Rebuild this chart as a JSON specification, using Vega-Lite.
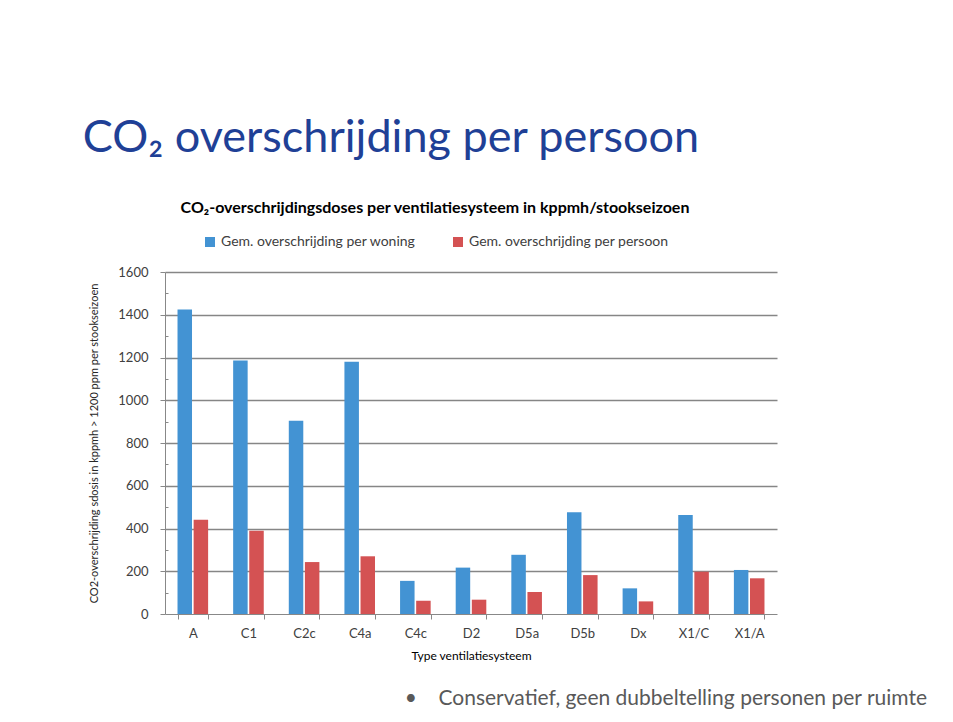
{
  "$schema": "https://vega.github.io/schema/vega-lite/v6.json",
  "autosize": {"type": "pad"},
  "padding": {"left": 82, "top": 116, "right": 10, "bottom": 4},
  "background": "white",
  "title": {
    "text": "CO₂ overschrijding per persoon",
    "anchor": "start",
    "frame": "bounds",
    "dx": -6,
    "fontSize": 45,
    "font": "Lato",
    "fontWeight": "normal",
    "color": "#1f4096",
    "offset": 39
  },
  "datasets": {
    "bars": [
      {"systeem": "A", "reeks": "Gem. overschrijding per woning", "waarde": 1424},
      {"systeem": "A", "reeks": "Gem. overschrijding per persoon", "waarde": 441},
      {"systeem": "C1", "reeks": "Gem. overschrijding per woning", "waarde": 1186},
      {"systeem": "C1", "reeks": "Gem. overschrijding per persoon", "waarde": 389},
      {"systeem": "C2c", "reeks": "Gem. overschrijding per woning", "waarde": 904},
      {"systeem": "C2c", "reeks": "Gem. overschrijding per persoon", "waarde": 243},
      {"systeem": "C4a", "reeks": "Gem. overschrijding per woning", "waarde": 1180},
      {"systeem": "C4a", "reeks": "Gem. overschrijding per persoon", "waarde": 270},
      {"systeem": "C4c", "reeks": "Gem. overschrijding per woning", "waarde": 155},
      {"systeem": "C4c", "reeks": "Gem. overschrijding per persoon", "waarde": 62},
      {"systeem": "D2", "reeks": "Gem. overschrijding per woning", "waarde": 217},
      {"systeem": "D2", "reeks": "Gem. overschrijding per persoon", "waarde": 67},
      {"systeem": "D5a", "reeks": "Gem. overschrijding per woning", "waarde": 277},
      {"systeem": "D5a", "reeks": "Gem. overschrijding per persoon", "waarde": 103},
      {"systeem": "D5b", "reeks": "Gem. overschrijding per woning", "waarde": 476},
      {"systeem": "D5b", "reeks": "Gem. overschrijding per persoon", "waarde": 182},
      {"systeem": "Dx", "reeks": "Gem. overschrijding per woning", "waarde": 120},
      {"systeem": "Dx", "reeks": "Gem. overschrijding per persoon", "waarde": 59},
      {"systeem": "X1/C", "reeks": "Gem. overschrijding per woning", "waarde": 463},
      {"systeem": "X1/C", "reeks": "Gem. overschrijding per persoon", "waarde": 198},
      {"systeem": "X1/A", "reeks": "Gem. overschrijding per woning", "waarde": 206},
      {"systeem": "X1/A", "reeks": "Gem. overschrijding per persoon", "waarde": 167}
    ],
    "noot": [{"tekst": ""}]
  },
  "vconcat": [
    {
      "width": 612,
      "height": 342,
      "data": {"name": "bars"},
      "title": {
        "text": "CO₂-overschrijdingsdoses per ventilatiesysteem in kppmh/stookseizoen",
        "anchor": "middle",
        "dx": -36,
        "fontSize": 16,
        "font": "Lato",
        "fontWeight": "bold",
        "color": "#000000",
        "offset": 50
      },
      "mark": {"type": "bar"},
      "encoding": {
        "x": {
          "field": "systeem",
          "type": "nominal",
          "sort": null,
          "scale": {"paddingInner": 0.45, "paddingOuter": 0.225},
          "axis": {
            "title": "Type ventilatiesysteem",
            "titleFont": "Lato",
            "titleFontSize": 12,
            "titleFontWeight": "normal",
            "titleColor": "#000000",
            "titlePadding": 10,
            "labelAngle": 0,
            "labelFont": "Lato",
            "labelFontSize": 13,
            "labelColor": "#404040",
            "labelPadding": 8,
            "tickBand": "extent",
            "tickSize": 5,
            "tickColor": "#888888",
            "domainColor": "#888888"
          }
        },
        "xOffset": {
          "field": "reeks",
          "type": "nominal",
          "sort": ["Gem. overschrijding per woning", "Gem. overschrijding per persoon"],
          "scale": {"paddingInner": 0.1}
        },
        "y": {
          "field": "waarde",
          "type": "quantitative",
          "scale": {"domain": [0, 1600], "nice": false},
          "axis": {
            "title": "CO2-overschrijding sdosis in kppmh > 1200 ppm per stookseizoen",
            "titleFont": "Lato",
            "titleFontSize": 11,
            "titleFontWeight": "normal",
            "titleColor": "#262626",
            "titlePadding": 18,
            "values": [0, 100, 200, 300, 400, 500, 600, 700, 800, 900, 1000, 1100, 1200, 1300, 1400, 1500, 1600],
            "labelExpr": "datum.value % 200 == 0 ? datum.label : ''",
            "format": "d",
            "labelFont": "Lato",
            "labelFontSize": 13,
            "labelColor": "#404040",
            "labelPadding": 12,
            "tickColor": "#888888",
            "tickSize": {"condition": {"test": "datum.value % 200 == 0", "value": 5}, "value": -3},
            "domainColor": "#888888",
            "grid": true,
            "gridColor": {"condition": {"test": "datum.value % 200 == 0 && datum.value > 0", "value": "#868686"}, "value": "transparent"},
            "gridWidth": 1.3
          }
        },
        "color": {
          "field": "reeks",
          "type": "nominal",
          "scale": {
            "domain": ["Gem. overschrijding per woning", "Gem. overschrijding per persoon"],
            "range": ["#4393d3", "#d45253"]
          },
          "legend": {
            "title": null,
            "orient": "none",
            "direction": "horizontal",
            "legendX": 38,
            "legendY": -37,
            "symbolType": "square",
            "symbolSize": 100,
            "symbolStrokeWidth": 0,
            "columnPadding": 35,
            "labelFont": "Lato",
            "labelFontSize": 14,
            "labelColor": "#404040",
            "labelLimit": 400
          }
        }
      }
    },
    {
      "width": 762,
      "height": 1,
      "data": {"name": "noot"},
      "title": {
        "text": "•\u00a0\u00a0\u00a0\u00a0Conservatief, geen dubbeltelling personen per ruimte",
        "anchor": "end",
        "fontSize": 21,
        "font": "Lato",
        "fontWeight": "normal",
        "color": "#595959",
        "offset": 0
      },
      "mark": {"type": "text"},
      "encoding": {"text": {"field": "tekst"}}
    }
  ],
  "spacing": 26,
  "config": {
    "view": {"stroke": null},
    "axis": {"domainWidth": 1}
  }
}
